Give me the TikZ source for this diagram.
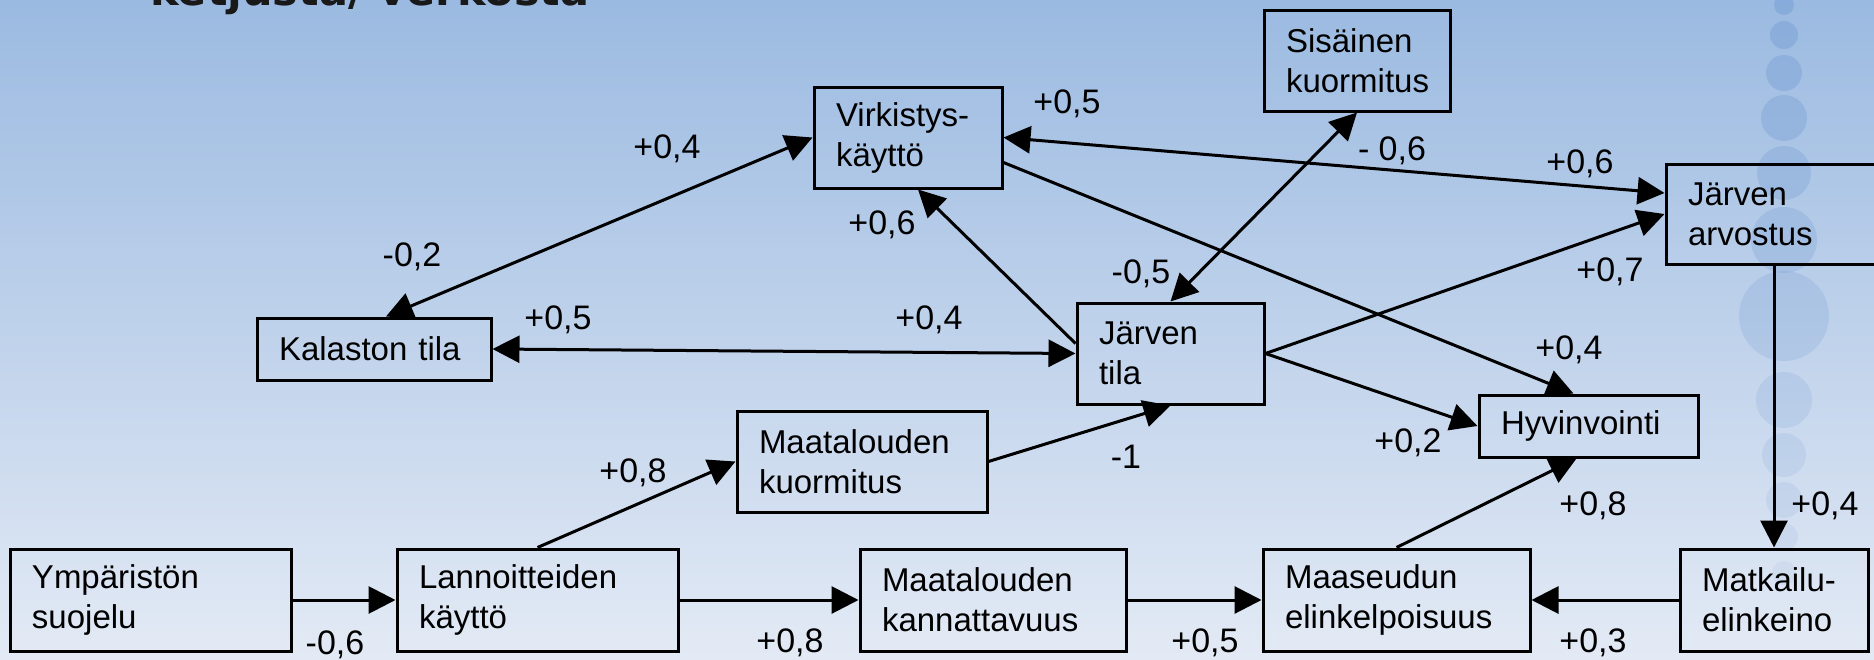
\documentclass[tikz,border=0pt]{standalone}
\usepackage{fontspec}
\setmainfont{Liberation Sans}
\newfontfamily\titlefont{DejaVu Sans}
\usetikzlibrary{arrows.meta,calc}
\definecolor{bgtop}{RGB}{155,186,225}
\definecolor{bgbot}{RGB}{227,234,245}
\definecolor{dot}{RGB}{100,145,205}
\begin{document}
\begin{tikzpicture}[x=0.5pt,y=-0.5pt,
  box/.style={draw, line width=1.5pt, inner xsep=11pt, inner ysep=0pt, align=left, font=\fontsize{16.5}{20}\selectfont},
  lab/.style={font=\fontsize{17}{20}\selectfont, inner sep=0pt},
  conn/.style={line width=1.5pt, -{Triangle[length=13.5pt,width=13.5pt]}},
  biconn/.style={line width=1.5pt, {Triangle[length=13.5pt,width=13.5pt]}-{Triangle[length=13.5pt,width=13.5pt]}},
  deco/.style={fill=dot, draw=none}
]
\useasboundingbox (0,0) rectangle (1874,659);
\clip (0,0) rectangle (1874,659);
\shade[top color=bgtop, bottom color=bgbot] (0,0) rectangle (1874,659);
% decorative circles
\foreach \cy/\r/\o in {5/10/0.35, 35/14/0.33, 73/18/0.3, 118/23/0.28, 173/27/0.25, 240/33/0.22, 316/45/0.18, 400/28/0.15, 455/22/0.13, 500/18/0.12, 537/14/0.1, 573/12/0.08}
  \fill[deco, fill opacity=\o] (1784,\cy) circle[radius=\r];
% partial title
\node[anchor=base west, font=\titlefont\bfseries\fontsize{21.5}{26}\selectfont, text=black!90, inner sep=0pt] (title) at (150,5) {ketjusta/ verkosta};
% boxes
\node[box, text width=72pt, minimum height=50.5pt] (virk) at (908,137.5) {Virkistys-\\käyttö};
\node[box, text width=71pt, minimum height=50.5pt] (sis) at (1357,60.5) {Sisäinen\\kuormitus};
\node[box, text width=98pt, minimum height=50pt] (arv) at (1786,214) {Järven\\arvostus};
\node[box, text width=95pt, minimum height=31pt] (kal) at (374,349) {Kalaston tila};
\node[box, text width=71.5pt, minimum height=50.5pt] (jtila) at (1170.5,353.5) {Järven\\tila};
\node[box, text width=103pt, minimum height=50.5pt] (mkuor) at (862,461.5) {Maatalouden\\kuormitus};
\node[box, text width=87.5pt, minimum height=31pt] (hyv) at (1588.5,426) {Hyvinvointi};
\node[box, text width=118.5pt, minimum height=51pt] (ymp) at (150.5,600) {Ympäristön\\suojelu};
\node[box, text width=118.5pt, minimum height=51pt] (lan) at (537.5,600) {Lannoitteiden\\käyttö};
\node[box, text width=111pt, minimum height=51pt] (mkan) at (993,600) {Maatalouden\\kannattavuus};
\node[box, text width=111.5pt, minimum height=51pt] (maas) at (1396.5,600) {Maaseudun\\elinkelpoisuus};
\node[box, text width=72pt, minimum height=51pt] (matk) at (1774,600) {Matkailu-\\elinkeino};
% connectors
\draw[biconn] ($(kal.north)+(12,0)$) -- (virk.west);
\draw[biconn] (kal.east) -- (jtila.west);
\draw[conn] ($(jtila.north west)+(0,42)$) -- ($(virk.south)+(10,0)$);
\draw[biconn] (virk.east) -- ($(arv.west)+(0,-21)$);
\draw[biconn] (sis.south) -- (jtila.north);
\draw[conn] ($(virk.east)+(0,25)$) -- ($(hyv.north)+(-15,0)$);
\draw[conn] (jtila.east) -- (arv.west);
\draw[conn] (jtila.east) -- (hyv.west);
\draw[conn] (mkuor.east) -- (jtila.south);
\draw[conn] (lan.north) -- (mkuor.west);
\draw[conn] (ymp.east) -- (lan.west);
\draw[conn] (lan.east) -- (mkan.west);
\draw[conn] (mkan.east) -- (maas.west);
\draw[conn] (matk.west) -- (maas.east);
\draw[conn] (maas.north) -- ($(hyv.south)+(-12,0)$);
\draw[conn] (arv.south -| matk.north) -- (matk.north);
% labels
\node[lab] (l1) at (667,149) {+0,4};
\node[lab] (l2) at (412,257) {-0,2};
\node[lab] (l3) at (558,320) {+0,5};
\node[lab] (l4) at (929,320) {+0,4};
\node[lab] (l5) at (882,225) {+0,6};
\node[lab] (l6) at (1067,104) {+0,5};
\node[lab] (l7) at (1580,164) {+0,6};
\node[lab] (l8) at (1392,151) {- 0,6};
\node[lab] (l9) at (1141,274) {-0,5};
\node[lab] (l10) at (1610,272) {+0,7};
\node[lab] (l11) at (1569,350) {+0,4};
\node[lab] (l12) at (1408,443) {+0,2};
\node[lab] (l13) at (1126,457) {-1};
\node[lab] (l14) at (633,473) {+0,8};
\node[lab] (l15) at (335,645) {-0,6};
\node[lab] (l16) at (790,643) {+0,8};
\node[lab] (l17) at (1205,643) {+0,5};
\node[lab] (l18) at (1593,643) {+0,3};
\node[lab] (l19) at (1593,506) {+0,8};
\node[lab] (l20) at (1825,506) {+0,4};
\end{tikzpicture}
\end{document}
